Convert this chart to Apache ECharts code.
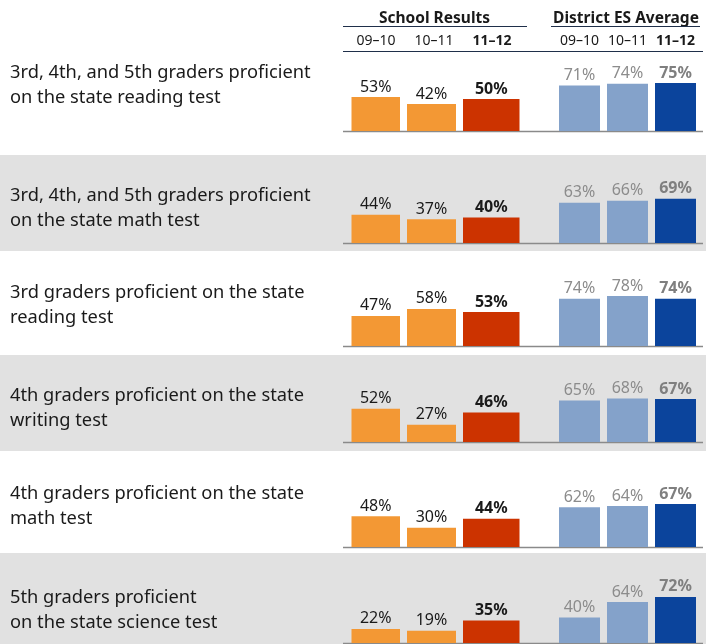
<!DOCTYPE html>
<html>
<head>
<meta charset="utf-8">
<script src="https://cdn.jsdelivr.net/npm/echarts@6/dist/echarts.min.js"></script>
<style>
  html, body { margin: 0; padding: 0; background: #fff; }
  #chart { width: 706px; height: 644px; }
</style>
</head>
<body>
<div id="chart"></div>
<script>
// measures (one row each)
var measures = [
  '3rd, 4th, and 5th graders proficient\non the state reading test',
  '3rd, 4th, and 5th graders proficient\non the state math test',
  '3rd graders proficient on the state\nreading test',
  '4th graders proficient on the state\nwriting test',
  '4th graders proficient on the state\nmath test',
  '5th graders proficient\non the state science test'
];
var years = ['09–10', '10–11', '11–12'];

// school results, % proficient
var school0910 = [53, 44, 47, 52, 48, 22];
var school1011 = [42, 37, 58, 27, 30, 19];
var school1112 = [50, 40, 53, 46, 44, 35];
// district ES average
var district0910 = [71, 63, 74, 65, 62, 40];
var district1011 = [74, 66, 78, 68, 64, 64];
var district1112 = [75, 69, 74, 67, 67, 72];

// layout only
var baseY = [131, 243, 346, 442, 547, 643];
var labelY = [85, 208, 305, 408, 506, 610];
var greyBands = [[155, 251], [355, 451], [553, 644]];
var barH = 64; // px for 100%

var FONT = '"Noto Sans", sans-serif';
var ORANGE = '#F39834', RED = '#CC3300', LBLUE = '#84A2CA', DBLUE = '#0B449C';

var grids = [], xAxes = [], yAxes = [], series = [], graphic = [];

greyBands.forEach(function (b) {
  graphic.push({ type: 'rect', shape: { x: 0, y: b[0], width: 706, height: b[1] - b[0] },
    style: { fill: '#E1E1E1' }, z: 0 });
});

function addGrid(left, width, gTop, height, showTop) {
  var idx = grids.length;
  grids.push({ left: left, width: width, top: gTop, height: height });
  xAxes.push({
    type: 'category', gridIndex: idx, data: years,
    position: showTop ? 'top' : 'bottom',
    axisLine: { show: false }, axisTick: { show: false },
    axisLabel: showTop ? {
      show: true, interval: 0, margin: 3, fontFamily: FONT, fontSize: 14, color: '#1a1a1a',
      formatter: function (v, i) { return i === 2 ? '{b|' + v + '}' : v; },
      rich: { b: { fontWeight: 'bold', fontFamily: FONT, fontSize: 14, color: '#1a1a1a' } }
    } : { show: false }
  });
  yAxes.push({ type: 'value', gridIndex: idx, min: 0, max: 100, show: false });
  return idx;
}

function lbl(color, bold) {
  return {
    show: true, position: 'top', distance: 2, formatter: '{c}%',
    fontFamily: FONT, fontSize: 16, color: color, fontWeight: bold ? 'bold' : 'normal'
  };
}

// header year labels
addGrid(347, 174, 51, 20, true);
addGrid(555.5, 144, 51, 20, true);

for (var r = 0; r < measures.length; r++) {
  var rowTop = baseY[r] - barH;
  var gs = addGrid(351.5, 168, rowTop, barH, false);
  series.push({
    type: 'bar', xAxisIndex: gs, yAxisIndex: gs, barWidth: 49, barGap: '-100%',
    data: [school0910[r], school1011[r], '-'],
    itemStyle: { color: ORANGE }, label: lbl('#1a1a1a', false), silent: true
  });
  series.push({
    type: 'bar', xAxisIndex: gs, yAxisIndex: gs, barWidth: 57, barGap: '-100%',
    data: ['-', '-', school1112[r]],
    itemStyle: { color: RED }, label: lbl('#1a1a1a', true), silent: true
  });
  var gd = addGrid(555.5, 144, rowTop, barH, false);
  series.push({
    type: 'bar', xAxisIndex: gd, yAxisIndex: gd, barWidth: 41,
    data: [district0910[r], district1011[r], {
      value: district1112[r], itemStyle: { color: DBLUE },
      label: { fontWeight: 'bold', color: '#7F7F7F' }
    }],
    itemStyle: { color: LBLUE }, label: lbl('#8C8C8C', false), silent: true
  });

  graphic.push({ type: 'line', shape: { x1: 343, y1: baseY[r] + 0.5, x2: 703, y2: baseY[r] + 0.5 },
    style: { stroke: '#8A8A8A', lineWidth: 1.5 }, z: 1 });
  graphic.push({ type: 'text', x: 10, y: labelY[r],
    style: { text: measures[r], fontFamily: FONT, fontSize: 18.3, lineHeight: 25,
      fill: '#1a1a1a', verticalAlign: 'middle', align: 'left' }, z: 1 });
}

// headers
graphic.push({ type: 'text', x: 434.5, y: 19, style: { text: 'School Results', fontFamily: FONT,
  fontSize: 15.5, fontWeight: 'bold', fill: '#1a1a1a', align: 'center', verticalAlign: 'middle' } });
graphic.push({ type: 'text', x: 626, y: 19, style: { text: 'District ES Average', fontFamily: FONT,
  fontSize: 15.5, fontWeight: 'bold', fill: '#1a1a1a', align: 'center', verticalAlign: 'middle' } });
graphic.push({ type: 'line', shape: { x1: 343, y1: 26.5, x2: 527, y2: 26.5 }, style: { stroke: '#1F2F4A', lineWidth: 1 } });
graphic.push({ type: 'line', shape: { x1: 551, y1: 26.5, x2: 700, y2: 26.5 }, style: { stroke: '#1F2F4A', lineWidth: 1 } });
graphic.push({ type: 'line', shape: { x1: 343, y1: 51.5, x2: 703, y2: 51.5 }, style: { stroke: '#1F2F4A', lineWidth: 1 } });

var chart = echarts.init(document.getElementById('chart'));
chart.setOption({
  animation: false,
  grid: grids,
  xAxis: xAxes,
  yAxis: yAxes,
  series: series,
  graphic: graphic
});
</script>
</body>
</html>
